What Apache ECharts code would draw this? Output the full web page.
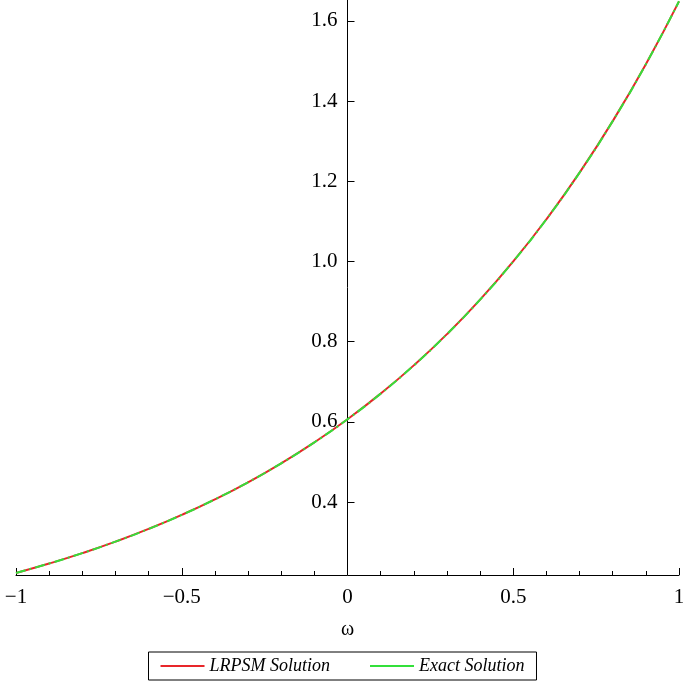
<!DOCTYPE html>
<html><head><meta charset="utf-8">
<script src="https://cdn.jsdelivr.net/npm/echarts@6/dist/echarts.min.js"></script>
<style>html,body{margin:0;padding:0;background:#fff}#c{width:685px;height:689px}</style>
</head><body><div id="c"></div>
<script>
const xs = [-1,-0.9,-0.8,-0.7,-0.6,-0.5,-0.4,-0.3,-0.2,-0.1,0,0.1,0.2,0.3,0.4,0.5,0.6,0.7,0.8,0.9,1];
const lrpsm = [0.2231,0.2466,0.2725,0.3012,0.3329,0.3679,0.4066,0.4493,0.4966,0.5488,0.6065,0.6703,0.7408,0.8187,0.9048,1.0,1.1052,1.2214,1.3499,1.4918,1.6487];
const exact = [0.2231,0.2466,0.2725,0.3012,0.3329,0.3679,0.4066,0.4493,0.4966,0.5488,0.6065,0.6703,0.7408,0.8187,0.9048,1.0,1.1052,1.2214,1.3499,1.4918,1.6487];
const yTicks = [0.4,0.6,0.8,1.0,1.2,1.4,1.6];
const xTicks = [-1,-0.5,0,0.5,1];
const font = 'Liberation Serif';
const gridLeft = 16, gridRight = 6, W = 685;
const chart = echarts.init(document.getElementById('c'));
chart.setOption({
  animation:false,
  grid:{left:gridLeft,right:gridRight,top:0,bottom:114,outerBoundsMode:'none',containLabel:false},
  legend:{bottom:9,left:'center',itemWidth:44,itemHeight:2,itemGap:40,
    borderColor:'#000',borderWidth:1,borderRadius:0,padding:[5,12],
    textStyle:{fontFamily:font,fontStyle:'italic',fontSize:18,color:'#000'},
    data:[{name:'LRPSM Solution',icon:'rect'},{name:'Exact Solution',icon:'rect'}]},
  xAxis:{type:'value',min:-1,max:1,interval:0.5,
    name:'ω',nameLocation:'middle',nameGap:45,nameTextStyle:{fontFamily:font,fontSize:20,color:'#000'},
    axisLine:{onZero:false,lineStyle:{color:'#000'}},
    axisTick:{inside:true,length:7,lineStyle:{color:'#000'}},
    minorTick:{show:true,splitNumber:5,length:4,lineStyle:{color:'#000'}},
    splitLine:{show:false},
    axisLabel:{fontFamily:font,fontSize:21,color:'#000',margin:12,
      formatter:v=>String(v).replace('-','\u2212')}},
  yAxis:{type:'value',min:0.218,max:1.652,position:'left',
    offset:-((W-gridLeft-gridRight)/2),
    axisLine:{onZero:false,lineStyle:{color:'#000'}},
    axisTick:{inside:true,length:7,customValues:yTicks,lineStyle:{color:'#000'}},
    splitLine:{show:false},
    axisLabel:{fontFamily:font,fontSize:21,color:'#000',margin:10,customValues:yTicks,
      formatter:v=>v.toFixed(1)}},
  series:[
    {name:'LRPSM Solution',type:'line',smooth:true,showSymbol:false,
     lineStyle:{color:'#e8262a',width:2},itemStyle:{color:'#e8262a'},
     data:xs.map((x,i)=>[x,lrpsm[i]])},
    {name:'Exact Solution',type:'line',smooth:true,showSymbol:false,
     lineStyle:{color:'#33e03a',width:2,type:[10,4,2,4]},itemStyle:{color:'#33e03a'},
     data:xs.map((x,i)=>[x,exact[i]])}
  ]
});
</script></body></html>
